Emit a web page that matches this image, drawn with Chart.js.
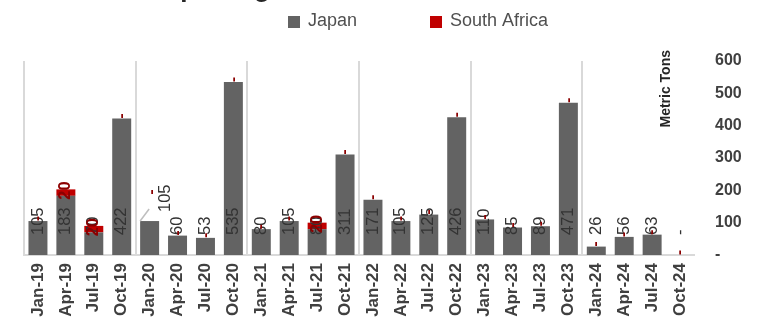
<!DOCTYPE html>
<html>
<head>
<meta charset="utf-8">
<script src="https://cdn.jsdelivr.net/npm/chart.js@4/dist/chart.umd.min.js"></script>
<style>
  html, body { margin: 0; padding: 0; background: #fff; }
  #wrap { width: 774px; height: 323px; position: relative; }
</style>
</head>
<body>
<div id="wrap"><canvas id="myChart"></canvas></div>
<script>
// Data (metric tons, quarterly)
const categories = ["Jan-19", "Apr-19", "Jul-19", "Oct-19", "Jan-20", "Apr-20", "Jul-20", "Oct-20",
    "Jan-21", "Apr-21", "Jul-21", "Oct-21", "Jan-22", "Apr-22", "Jul-22", "Oct-22",
    "Jan-23", "Apr-23", "Jul-23", "Oct-23", "Jan-24", "Apr-24", "Jul-24", "Oct-24"];
const japan = [105, 183, 70, 422, 105, 60, 53, 535, 80, 105, 80, 311, 171, 105, 125, 426, 110, 85, 89, 471, 26, 56, 63, 0];
const southAfrica = [0, 20, 20, 0, 0, 0, 0, 0, 0, 0, 20, 0, 0, 0, 0, 0, 0, 0, 0, 0, 0, 0, 0, 0];
const yTicks = [0, 100, 200, 300, 400, 500, 600];
const seriesNames = ["Japan", "South Africa"];

const FONT = "'Liberation Sans', Arial, sans-serif";

// zero shows as a dash, like the accounting format in the original
function fmt(v) {
    return v === 0 ? "-" : String(v);
}

function drawRotated(ctx, text, x, y, align, font, color) {
    ctx.save();
    ctx.translate(x, y);
    ctx.rotate(-Math.PI / 2);
    ctx.font = font;
    ctx.fillStyle = color;
    ctx.textAlign = align;
    ctx.textBaseline = "middle";
    ctx.fillText(text, 0, 0);
    ctx.restore();
}

// Value labels on the bars
const barLabels = {
    id: "barLabels",
    afterDatasetsDraw(chart) {
        const ctx = chart.ctx;
        const jp = chart.getDatasetMeta(0).data;
        const sa = chart.getDatasetMeta(1).data;
        const base = chart.chartArea.bottom - 20;

        jp.forEach(function (bar, i) {
            let x = bar.x, y = base;
            if (i === 4) {
                // this label was dragged above the bar, with a leader line
                x = bar.x + 15.5;
                y = bar.y - 9;
                ctx.save();
                ctx.strokeStyle = "#bfbfbf";
                ctx.lineWidth = 1.5;
                ctx.beginPath();
                ctx.moveTo(bar.x - 9.5, bar.y);
                ctx.lineTo(bar.x - 0.5, bar.y - 12);
                ctx.stroke();
                ctx.restore();
            }
            drawRotated(ctx, fmt(japan[i]), x, y, "left", "16.5px " + FONT, "#333333");
        });

        sa.forEach(function (bar, i) {
            const v = southAfrica[i];
            if (v === 0) {
                let x = bar.x, y = bar.y - 2.5;
                if (i === 4) { x = bar.x + 2.5; y = bar.y - 29; }
                drawRotated(ctx, "-", x, y, "center", "bold 15px " + FONT, "#8b0000");
            } else {
                drawRotated(ctx, fmt(v), bar.x, (bar.y + bar.base) / 2 - 2, "center", "bold 16.5px " + FONT, "#8b0000");
            }
        });
    },
    afterDraw(chart) {
        const ctx = chart.ctx;
        ctx.save();

        // title, cut off at the top edge in the original: only descenders show
        ctx.font = "bold 26px " + FONT;
        ctx.fillStyle = "#262626";
        ctx.textAlign = "left";
        ctx.textBaseline = "alphabetic";
        ctx.fillText("Importing", 150, -3.5);

        // legend
        const items = [
            { x: 288, color: "#636363", text: seriesNames[0] },
            { x: 430, color: "#c00000", text: seriesNames[1] }
        ];
        ctx.font = "18px " + FONT;
        ctx.textBaseline = "middle";
        items.forEach(function (it) {
            ctx.fillStyle = it.color;
            ctx.fillRect(it.x, 16, 12, 12);
            ctx.fillStyle = "#505050";
            ctx.fillText(it.text, it.x + 20, 21);
        });

        // axis title sits inside the plot, next to the right axis
        drawRotated(ctx, "Metric Tons", 666, 50, "right", "bold 14px " + FONT, "#262626");
        ctx.restore();
    }
};

const data = {
    labels: categories,
    datasets: [{
        label: seriesNames[0],
        data: japan,
        backgroundColor: "#636363"
    }, {
        label: seriesNames[1],
        data: southAfrica,
        backgroundColor: "#c00000"
    }]
};

const options = {
    responsive: true,
    maintainAspectRatio: false,
    animation: false,
    devicePixelRatio: 1,
    barPercentage: 0.68,
    categoryPercentage: 1.0,
    layout: { padding: { left: 24, top: 61, right: 0, bottom: 0 } },
    plugins: {
        legend: { display: false },
        title: { display: false },
        tooltip: { enabled: false }
    },
    scales: {
        x: {
            stacked: true,
            offset: true,
            grid: {
                offset: true,
                drawTicks: false,
                lineWidth: 2,
                color: function (c) { return c.index % 4 === 0 ? "#d9d9d9" : "rgba(0,0,0,0)"; }
            },
            border: { color: "#d9d9d9", width: 2 },
            ticks: {
                autoSkip: false,
                minRotation: 90,
                maxRotation: 90,
                padding: 8,
                color: "#404040",
                font: { family: FONT, size: 17, weight: "bold" }
            },
            afterFit: function (s) { s.height = 68; }
        },
        y: {
            stacked: true,
            position: "right",
            min: yTicks[0],
            max: yTicks[yTicks.length - 1],
            grid: { display: false, drawTicks: false },
            border: { display: false },
            afterBuildTicks: function (s) { s.ticks = yTicks.map(function (v) { return { value: v }; }); },
            ticks: {
                padding: 21,
                color: "#404040",
                font: { family: FONT, size: 16, weight: "bold" },
                callback: function (v) { return fmt(v); }
            },
            afterFit: function (s) { s.width = 80; }
        }
    }
};

const myChart = new Chart(document.getElementById("myChart").getContext("2d"), {
    type: "bar",
    data: data,
    options: options,
    plugins: [barLabels]
});
</script>
</body>
</html>
